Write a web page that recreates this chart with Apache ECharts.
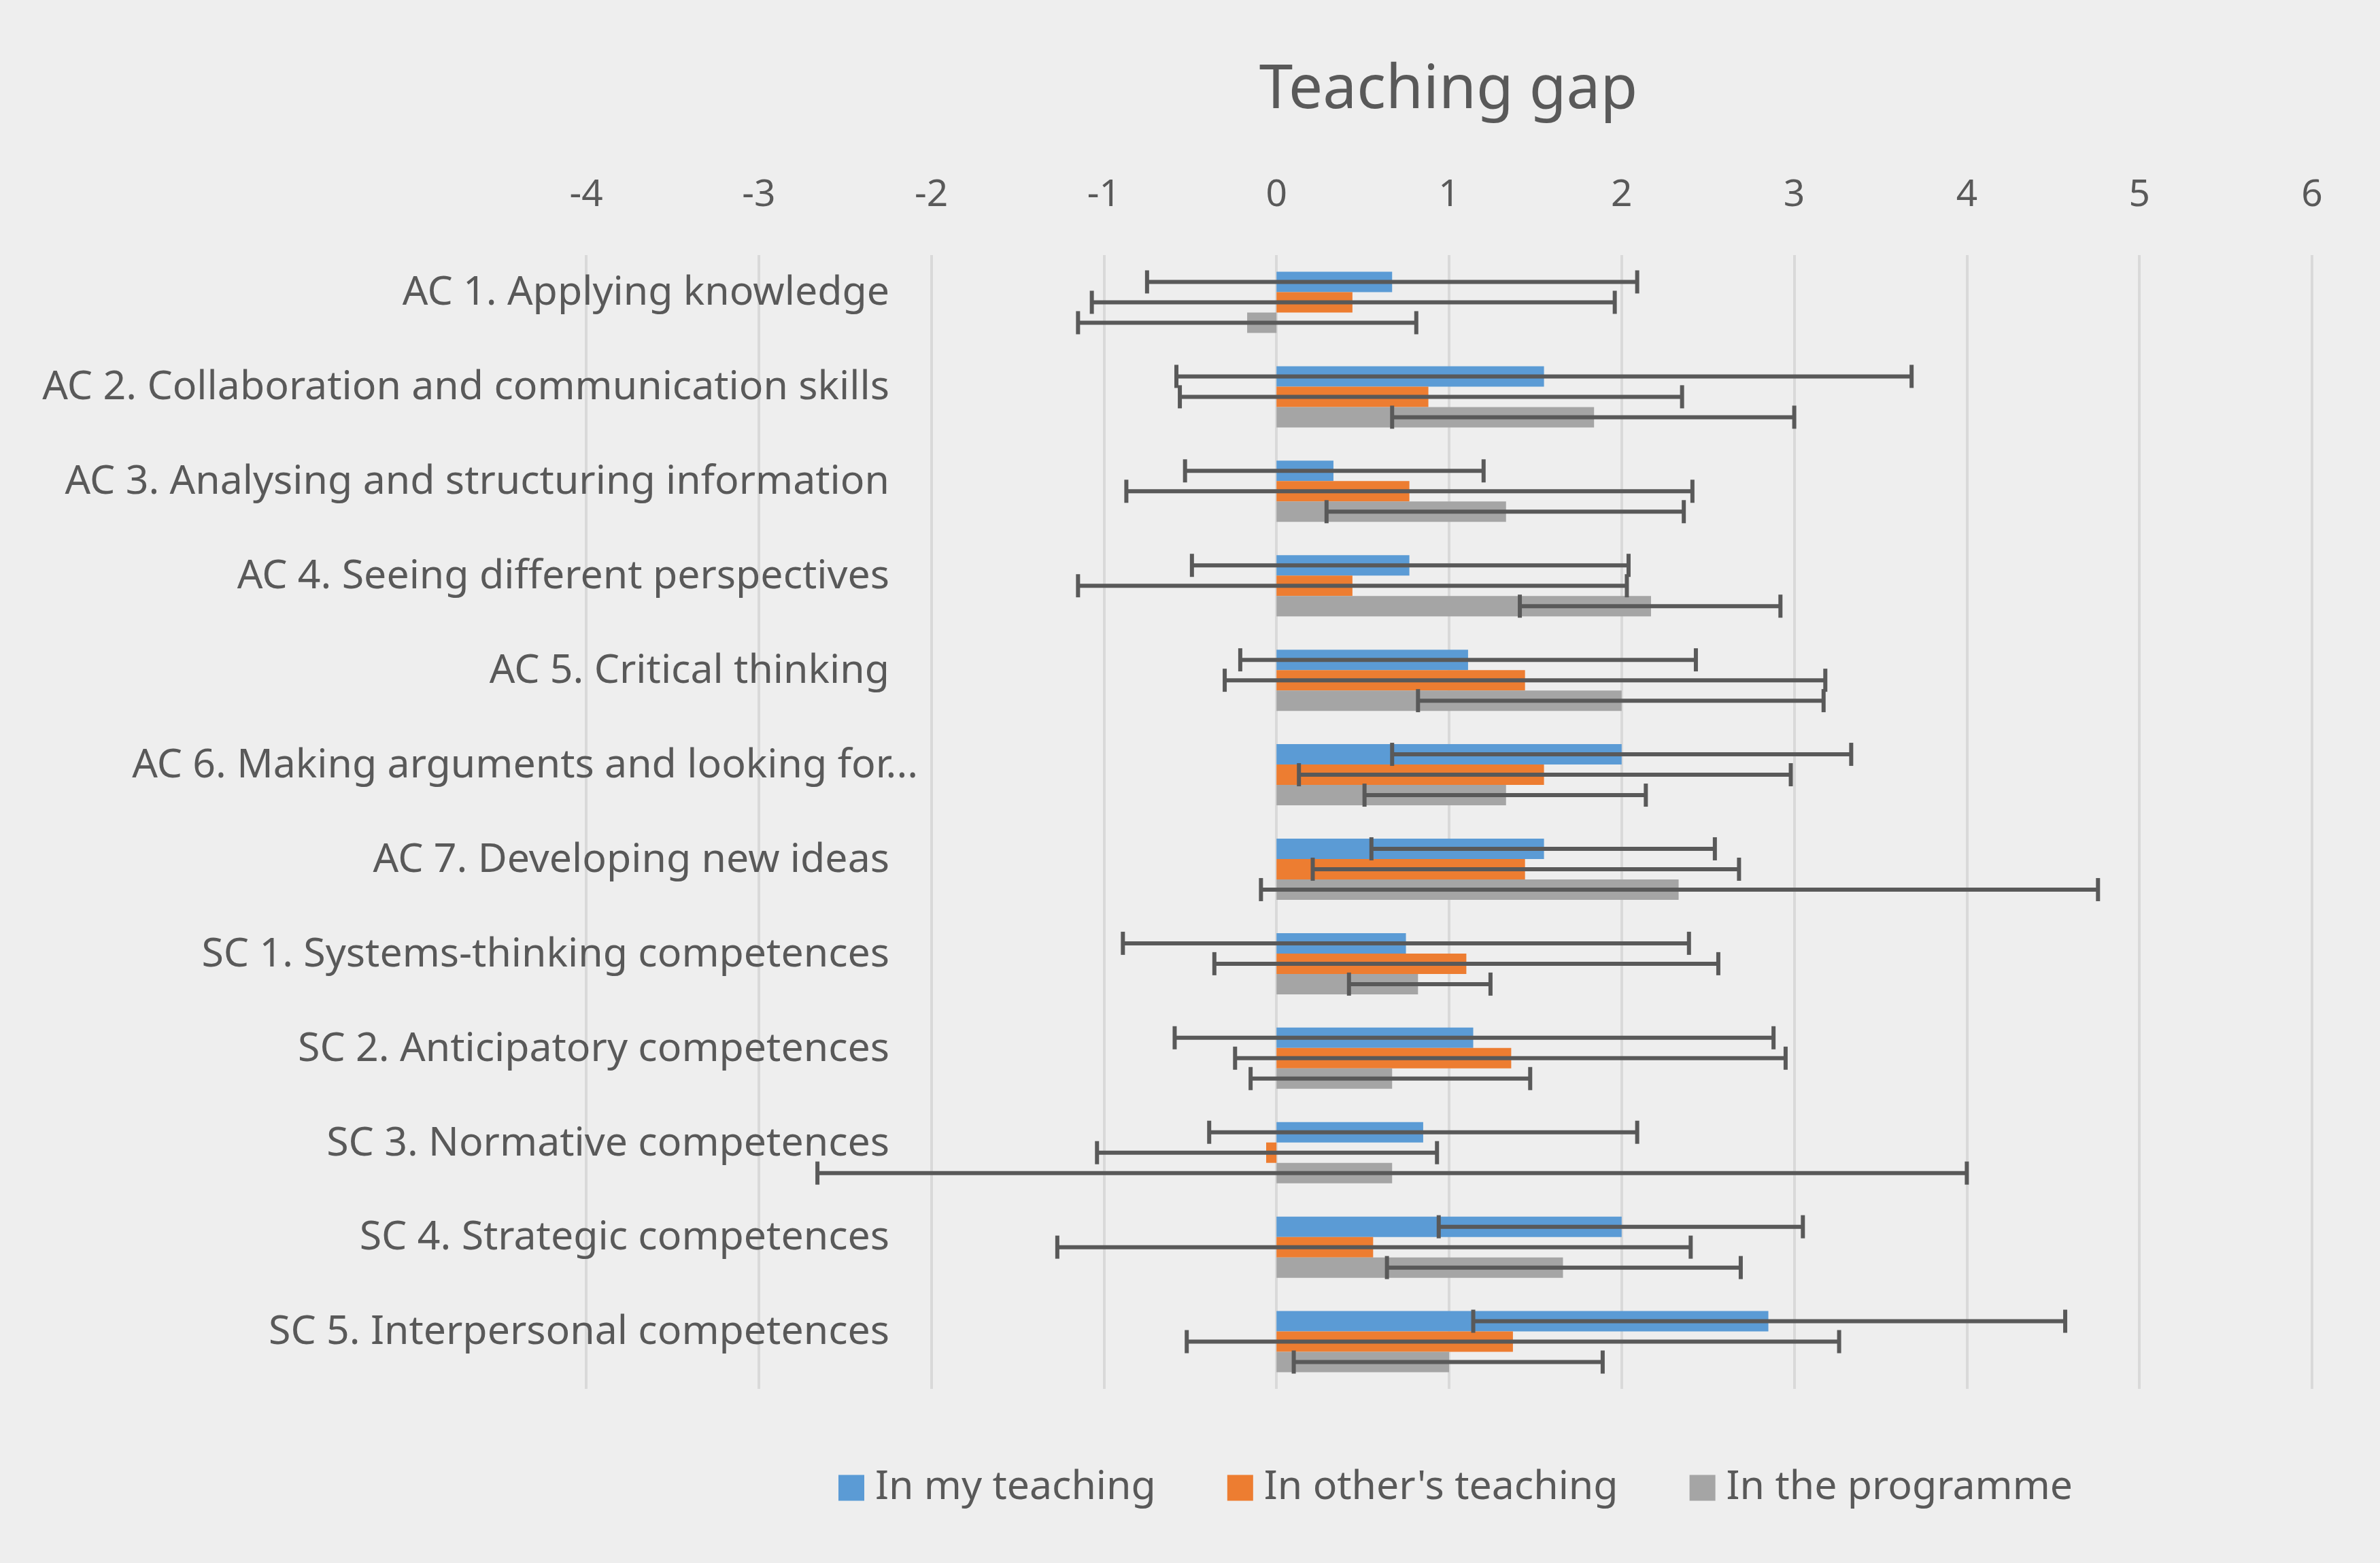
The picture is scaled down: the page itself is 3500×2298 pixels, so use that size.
<!DOCTYPE html>
<html>
<head>
<meta charset="utf-8">
<script src="https://cdn.jsdelivr.net/npm/echarts@6/dist/echarts.min.js"></script>
<style>
  html, body { margin: 0; padding: 0; background: #eeeeee; }
  #chart { width: 3500px; height: 2298px; }
</style>
</head>
<body>
<div id="chart"></div>
<script>
// categories, top to bottom
const categories = [
    'AC 1. Applying knowledge',
    'AC 2. Collaboration and communication skills',
    'AC 3. Analysing and structuring information',
    'AC 4. Seeing different perspectives',
    'AC 5. Critical thinking',
    'AC 6. Making arguments and looking for...',
    'AC 7. Developing new ideas',
    'SC 1. Systems-thinking competences',
    'SC 2. Anticipatory competences',
    'SC 3. Normative competences',
    'SC 4. Strategic competences',
    'SC 5. Interpersonal competences'
];
const seriesNames = ['In my teaching', "In other's teaching", 'In the programme'];
const xTicks = [-4, -3, -2, -1, 0, 1, 2, 3, 4, 5, 6];

// bar values
const myTeaching    = [0.67, 1.55, 0.33, 0.77, 1.11, 2.00, 1.55, 0.75, 1.14, 0.85, 2.00, 2.85];
const othersTeaching = [0.44, 0.88, 0.77, 0.44, 1.44, 1.55, 1.44, 1.10, 1.36, -0.06, 0.56, 1.37];
const programme     = [-0.17, 1.84, 1.33, 2.17, 2.00, 1.33, 2.33, 0.82, 0.67, 0.67, 1.66, 1.00];

// error bar ends (low, high)
const myLow     = [-0.75, -0.58, -0.53, -0.49, -0.21, 0.67, 0.55, -0.89, -0.59, -0.39, 0.94, 1.14];
const myHigh    = [2.09, 3.68, 1.20, 2.04, 2.43, 3.33, 2.54, 2.39, 2.88, 2.09, 3.05, 4.57];
const othersLow  = [-1.07, -0.56, -0.87, -1.15, -0.30, 0.13, 0.21, -0.36, -0.24, -1.04, -1.27, -0.52];
const othersHigh = [1.96, 2.35, 2.41, 2.03, 3.18, 2.98, 2.68, 2.56, 2.95, 0.93, 2.40, 3.26];
const progLow   = [-1.15, 0.67, 0.29, 1.41, 0.82, 0.51, -0.09, 0.42, -0.15, -2.66, 0.64, 0.10];
const progHigh  = [0.81, 3.00, 2.36, 2.92, 3.17, 2.14, 4.76, 1.24, 1.47, 4.00, 2.69, 1.89];

const colors = ['#5b9bd5', '#ed7d31', '#a5a5a5'];
const BAR_W = 30;
const FONT = 'Noto Sans';

const chart = echarts.init(document.getElementById('chart'));

// error bars: drawn by hand, shifted to sit on their bar within the category band
function errorSeries(idx, lows, highs) {
    return {
        type: 'custom',
        name: seriesNames[idx] + ' error',
        z: 10,
        silent: true,
        data: lows.map((lo, i) => [lo, highs[i], i]),
        encode: { x: [0, 1], y: 2 },
        renderItem: function (params, api) {
            const cat = api.value(2);
            const p1 = api.coord([api.value(0), cat]);
            const p2 = api.coord([api.value(1), cat]);
            const y = p1[1] + (idx - 1) * BAR_W;
            const h = 17;
            const style = { stroke: '#595959', lineWidth: 6 };
            return {
                type: 'group',
                children: [
                    { type: 'line', shape: { x1: p1[0], y1: y, x2: p2[0], y2: y }, style: style },
                    { type: 'line', shape: { x1: p1[0], y1: y - h, x2: p1[0], y2: y + h }, style: style },
                    { type: 'line', shape: { x1: p2[0], y1: y - h, x2: p2[0], y2: y + h }, style: style }
                ]
            };
        }
    };
}

const labelText = { fontFamily: FONT, fontSize: 59, color: '#595959' };

const option = {
    backgroundColor: '#eeeeee',
    animation: false,
    textStyle: { fontFamily: FONT },
    title: {
        text: 'Teaching gap',
        left: 2125,
        top: 84,
        textAlign: 'center',
        textStyle: { fontFamily: FONT, fontSize: 89, fontWeight: 'normal', color: '#595959' }
    },
    legend: {
        data: seriesNames,
        bottom: 76,
        left: 1228,
        itemWidth: 38,
        itemHeight: 38,
        itemGap: 105,
        icon: 'rect',
        textStyle: { fontFamily: FONT, fontSize: 59, color: '#595959', padding: [0, 0, 0, 11] }
    },
    grid: { left: 862, right: 100, top: 375, bottom: 256 },
    xAxis: {
        type: 'value',
        position: 'top',
        min: xTicks[0],
        max: xTicks[xTicks.length - 1],
        interval: 1,
        axisLine: { show: false },
        axisTick: { show: false },
        axisLabel: { fontFamily: FONT, fontSize: 55, color: '#595959', margin: 60 },
        splitLine: { lineStyle: { color: '#d9d9d9', width: 4 } }
    },
    yAxis: {
        type: 'category',
        inverse: true,
        data: categories,
        offset: -446,
        axisLine: { show: false },
        axisTick: { show: false },
        axisLabel: {
            margin: 0,
            // an empty spacer line under each label lifts it a little above the band centre, as in Excel
            formatter: v => (v.endsWith('...') ? '{cut|' + v + '}' : '{a|' + v + '}') + '\n{s| }',
            rich: {
                a: labelText,
                cut: Object.assign({ padding: [0, -42, 0, 0] }, labelText),
                s: { fontSize: 10, lineHeight: 26 }
            }
        },
        splitLine: { show: false }
    },
    series: [
        { name: seriesNames[0], type: 'bar', data: myTeaching, barWidth: BAR_W, barGap: '0%', itemStyle: { color: colors[0] } },
        { name: seriesNames[1], type: 'bar', data: othersTeaching, barWidth: BAR_W, barGap: '0%', itemStyle: { color: colors[1] } },
        { name: seriesNames[2], type: 'bar', data: programme, barWidth: BAR_W, barGap: '0%', itemStyle: { color: colors[2] } },
        errorSeries(0, myLow, myHigh),
        errorSeries(1, othersLow, othersHigh),
        errorSeries(2, progLow, progHigh)
    ]
};

chart.setOption(option);
</script>
</body>
</html>
